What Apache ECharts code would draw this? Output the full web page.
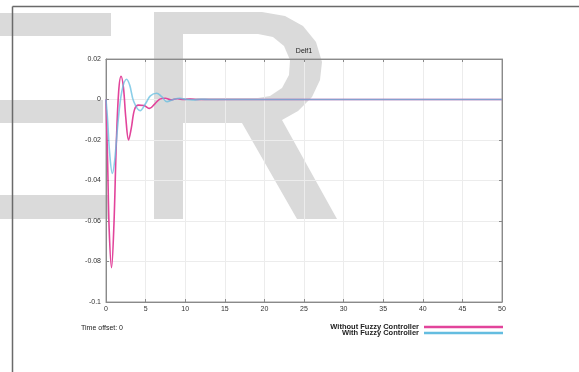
<!DOCTYPE html>
<html>
<head>
<meta charset="utf-8">
<script src="https://cdn.jsdelivr.net/npm/echarts@6/dist/echarts.min.js"></script>
<style>
  html, body { margin: 0; padding: 0; background: #fff; }
  #chart { width: 579px; height: 372px; }
</style>
</head>
<body>
<div id="chart"></div>
<script>
// Response of Delf1 over time, with and without the fuzzy controller
const seriesNames = ['Without Fuzzy Controller', 'With Fuzzy Controller'];

// [time, value] samples for the uncontrolled response
const withoutFuzzy = [
  [0, 0], [0.2, -0.030], [0.4, -0.064], [0.7, -0.083], [1.0, -0.062],
  [1.3, -0.022], [1.6, 0.004], [1.9, 0.0115], [2.2, 0.006], [2.5, -0.009],
  [2.85, -0.020], [3.2, -0.014], [3.6, -0.005], [4.1, -0.0028], [4.8, -0.003],
  [5.5, -0.0044], [6.2, -0.002], [6.8, 0.0002], [7.5, 0.0006], [8.2, -0.0002],
  [9.0, 0.0004], [9.8, 0.0], [10.6, 0.0002], [11.5, 0.0], [20, 0.0],
  [30, 0.0], [40, 0.0], [50, 0.0]
];

// [time, value] samples for the fuzzy-controlled response
const withFuzzy = [
  [0, 0], [0.2, -0.010], [0.45, -0.026], [0.8, -0.0365], [1.1, -0.030],
  [1.5, -0.012], [2.0, 0.004], [2.6, 0.0100], [3.0, 0.007], [3.5, -0.001],
  [4.3, -0.0055], [5.0, -0.002], [5.6, 0.0018], [6.4, 0.0031], [7.0, 0.0015],
  [7.7, -0.0011], [8.5, 0.0], [9.3, 0.0006], [10.2, 0.0], [11, -0.0002],
  [12, 0.0001], [13, 0.0], [20, 0.0], [30, 0.0], [40, 0.0], [50, 0.0]
];

const xTicks = [0, 5, 10, 15, 20, 25, 30, 35, 40, 45, 50];
const yTicks = [0.02, 0, -0.02, -0.04, -0.06, -0.08, -0.1];
const yTickLabels = ['0.02', '0', '-0.02', '-0.04', '-0.06', '-0.08', '-0.1'];

const titleText = 'Delf1';
const offsetText = 'Time offset: 0';

const colors = ['#e2449b', '#64bde0'];
const font = 'Liberation Sans, Arial, sans-serif';
const letterGrey = '#dadada';

function yLabel(v) {
  const r = Math.round(v * 100) / 100;
  const i = yTicks.findIndex(t => Math.abs(t - r) < 1e-9);
  return i >= 0 ? yTickLabels[i] : '';
}

const axisCommon = {
  type: 'value',
  axisLine: { show: true, onZero: false, lineStyle: { color: '#8a8a8a', width: 1 } },
  axisTick: { show: true, inside: true, length: 3, lineStyle: { color: '#8a8a8a' } },
  splitLine: { show: false }
};

const chart = echarts.init(document.getElementById('chart'), null, { renderer: 'canvas' });

chart.setOption({
  backgroundColor: '#ffffff',
  animation: false,
  grid: {
    left: 106, top: 59, right: 77, bottom: 70,
    show: true, borderColor: '#9a9a9a', borderWidth: 1, backgroundColor: 'transparent'
  },
  legend: {
    data: seriesNames,
    orient: 'vertical',
    align: 'right',
    right: 76,
    top: 323,
    icon: 'rect',
    itemWidth: 79,
    itemHeight: 2.5,
    itemGap: -2,
    padding: 0,
    textStyle: { fontSize: 7.5, fontWeight: 'bold', color: '#222', fontFamily: font, lineHeight: 6 }
  },
  xAxis: [
    Object.assign({}, axisCommon, {
      position: 'bottom', min: 0, max: 50, interval: 5,
      splitLine: { show: true, lineStyle: { color: '#ececec', width: 1 } },
      axisLabel: { fontSize: 7, color: '#333', fontFamily: font, margin: 4 }
    }),
    Object.assign({}, axisCommon, {
      position: 'top', min: 0, max: 50, interval: 5,
      axisLabel: { show: false }
    })
  ],
  yAxis: [
    Object.assign({}, axisCommon, {
      position: 'left', min: -0.1, max: 0.02, interval: 0.02,
      splitLine: { show: true, lineStyle: { color: '#ececec', width: 1 } },
      axisLabel: { fontSize: 7, color: '#333', fontFamily: font, margin: 5, formatter: yLabel }
    }),
    Object.assign({}, axisCommon, {
      position: 'right', min: -0.1, max: 0.02, interval: 0.02,
      axisLabel: { show: false }
    })
  ],
  series: [
    {
      name: seriesNames[0], type: 'line', data: withoutFuzzy,
      xAxisIndex: 0, yAxisIndex: 0,
      showSymbol: false, symbol: 'none', smooth: 0.35,
      color: colors[0],
      lineStyle: { color: colors[0], width: 1.6 }, z: 3
    },
    {
      name: seriesNames[1], type: 'line', data: withFuzzy,
      xAxisIndex: 0, yAxisIndex: 0,
      showSymbol: false, symbol: 'none', smooth: 0.35,
      color: colors[1],
      lineStyle: { color: colors[1], width: 1.6, opacity: 0.75 }, z: 4
    }
  ],
  graphic: [
    // large light-grey "ER" lettering behind the plot
    { type: 'rect', z: -10, shape: { x: 0, y: 13, width: 111, height: 23 }, style: { fill: letterGrey } },
    { type: 'rect', z: -10, shape: { x: 0, y: 100, width: 103, height: 23 }, style: { fill: letterGrey } },
    { type: 'rect', z: -10, shape: { x: 0, y: 195, width: 108, height: 24 }, style: { fill: letterGrey } },
    {
      type: 'polygon', z: -10,
      shape: {
        points: [[154, 12], [262, 12], [285, 16], [303, 26], [316, 42], [322, 62], [320, 80],
                 [312, 97], [298, 111], [282, 120], [337, 219], [297, 219], [242, 123],
                 [183, 123], [183, 219], [154, 219]]
      },
      style: { fill: letterGrey }
    },
    {
      type: 'polygon', z: -9,
      shape: {
        points: [[183, 34], [258, 34], [273, 37], [284, 46], [290, 60], [289, 75],
                 [282, 88], [270, 96], [258, 98], [183, 98]]
      },
      style: { fill: '#ffffff' }
    },
    // window frame
    { type: 'line', z: 50, shape: { x1: 12.5, y1: 6.5, x2: 579, y2: 6.5 }, style: { stroke: '#6a6a6a', lineWidth: 1.5 } },
    { type: 'line', z: 50, shape: { x1: 12.5, y1: 6.5, x2: 12.5, y2: 372 }, style: { stroke: '#6a6a6a', lineWidth: 1.5 } },
    // plot title and time offset note
    {
      type: 'text', z: 50, x: 304, y: 51,
      style: { text: titleText, fill: '#222', font: '7px ' + font, textAlign: 'center', textVerticalAlign: 'middle' }
    },
    {
      type: 'text', z: 50, x: 81, y: 328,
      style: { text: offsetText, fill: '#222', font: '7px ' + font, textAlign: 'left', textVerticalAlign: 'middle' }
    }
  ]
});
</script>
</body>
</html>
